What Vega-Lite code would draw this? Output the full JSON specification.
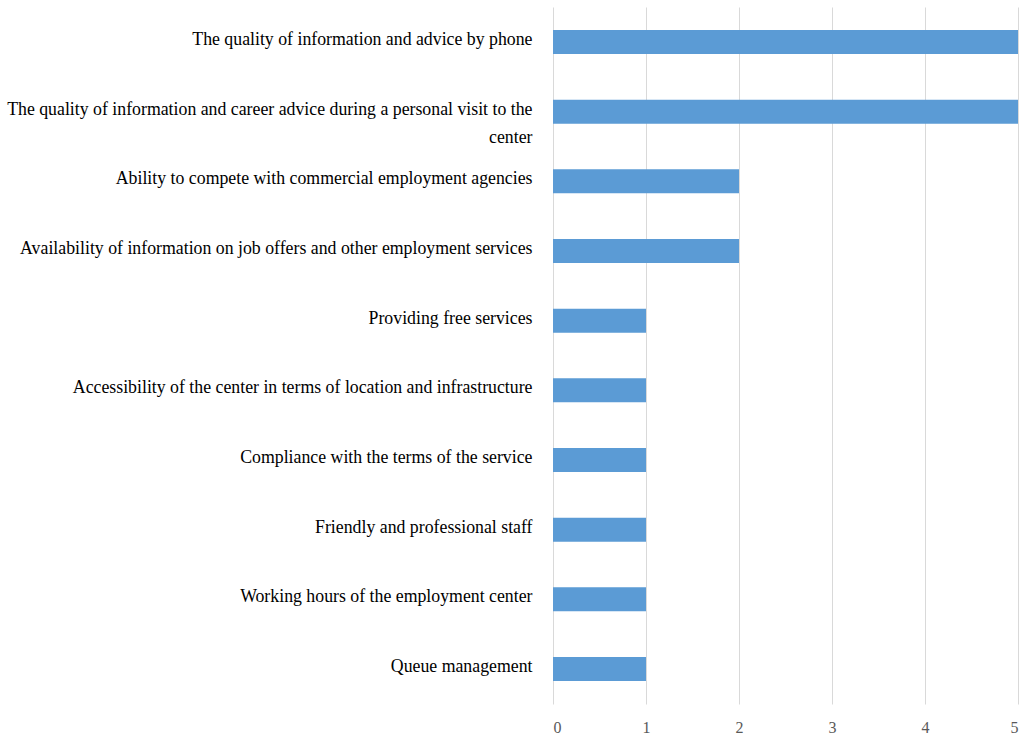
{
  "$schema": "https://vega.github.io/schema/vega-lite/v6.json",
  "width": 465,
  "height": 697,
  "autosize": "none",
  "padding": {"left": 553, "top": 7, "right": 6, "bottom": 31},
  "background": "white",
  "config": {"view": {"stroke": null}},
  "data": {
    "values": [
      {"criterion": "The quality of information and advice by phone", "score": 5},
      {"criterion": "The quality of information and career advice during a personal visit to the center", "score": 5},
      {"criterion": "Ability to compete with commercial employment agencies", "score": 2},
      {"criterion": "Availability of information on job offers and other employment services", "score": 2},
      {"criterion": "Providing free services", "score": 1},
      {"criterion": "Accessibility of the center in terms of location and infrastructure", "score": 1},
      {"criterion": "Compliance with the terms of the service", "score": 1},
      {"criterion": "Friendly and professional staff", "score": 1},
      {"criterion": "Working hours of the employment center", "score": 1},
      {"criterion": "Queue management", "score": 1}
    ]
  },
  "mark": {"type": "bar", "color": "#5B9BD5"},
  "encoding": {
    "y": {
      "field": "criterion",
      "type": "nominal",
      "sort": null,
      "scale": {"paddingInner": 0.655, "paddingOuter": 0.33},
      "axis": {
        "title": null,
        "domain": false,
        "ticks": false,
        "labelFont": "Liberation Serif",
        "labelFontSize": 17.8,
        "labelColor": "#000000",
        "labelPadding": 21,
        "labelLimit": 600,
        "labelLineHeight": 28,
        "labelOffset": -2,
        "labelExpr": "test(/personal visit/, datum.value) ? ['The quality of information and career advice during a personal visit to the', 'center'] : datum.value"
      }
    },
    "x": {
      "field": "score",
      "type": "quantitative",
      "scale": {"domain": [0, 5], "nice": false},
      "axis": {
        "title": null,
        "domain": false,
        "ticks": false,
        "values": [0, 1, 2, 3, 4, 5],
        "grid": true,
        "gridColor": "#d9d9d9",
        "labelFont": "Liberation Sans Narrow",
        "labelFontSize": 16,
        "labelColor": "#595959",
        "labelPadding": 15
      }
    }
  }
}
